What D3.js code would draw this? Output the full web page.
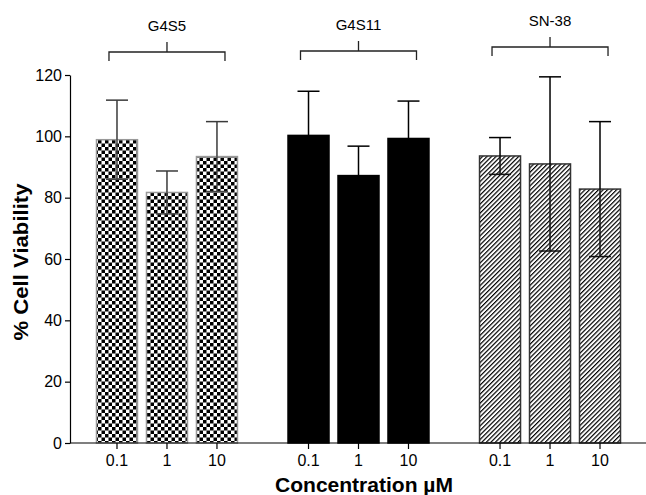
<!DOCTYPE html>
<html lang="en">
<head>
<meta charset="UTF-8">
<script src="https://d3js.org/d3.v7.min.js"></script>
<style>
    body { margin: 0; background: #fff; }
    text { font-family: "Liberation Sans", Arial, Helvetica, sans-serif; fill: #000; }
</style>
</head>
<body>
<script>
// data
var groups = ["G4S5", "G4S11", "SN-38"];
var concentrations = ["0.1", "1", "10"];
var g4s5Mean  = [98.9, 81.7, 93.4];
var g4s5Sd    = [12.9, 7.0, 11.4];
var g4s11Mean = [100.3, 87.2, 99.3];
var g4s11Sd   = [14.4, 9.6, 12.2];
var sn38Mean  = [93.6, 91.0, 82.8];
var sn38Sd    = [6.0, 28.4, 22.0];
var yTicks = [0, 20, 40, 60, 80, 100, 120];

var means = [g4s5Mean, g4s11Mean, sn38Mean];
var sds = [g4s5Sd, g4s11Sd, sn38Sd];
var rows = [];
groups.forEach(function (g, gi) {
    concentrations.forEach(function (c, ci) {
        rows.push({ group: g, gi: gi, conc: c, mean: means[gi][ci], sd: sds[gi][ci] });
    });
});

var width = 646, height = 495;
var svg = d3.select("body").append("svg")
    .attr("width", width)
    .attr("height", height);

// patterns
var defs = svg.append("defs");
var checker = defs.append("pattern")
    .attr("id", "checker")
    .attr("patternUnits", "userSpaceOnUse")
    .attr("width", 7).attr("height", 7);
checker.append("rect").attr("width", 7).attr("height", 7).attr("fill", "#fff");
checker.append("rect").attr("width", 3.5).attr("height", 3.5).attr("fill", "#000");
checker.append("rect").attr("x", 3.5).attr("y", 3.5).attr("width", 3.5).attr("height", 3.5).attr("fill", "#000");

var hatch = defs.append("pattern")
    .attr("id", "hatch")
    .attr("patternUnits", "userSpaceOnUse")
    .attr("width", 3.2).attr("height", 3.2)
    .attr("patternTransform", "rotate(45)");
hatch.append("rect").attr("width", 3.2).attr("height", 3.2).attr("fill", "#fff");
hatch.append("line").attr("x1", 0.6).attr("y1", 0).attr("x2", 0.6).attr("y2", 3.2)
    .attr("stroke", "#000").attr("stroke-width", 1.2);

var fills = ["url(#checker)", "#000", "url(#hatch)"];
var outlines = ["#999", "#000", "#333"];
var errColor = ["#3a3a3a", "#000", "#000"];
var lowColor = ["#444", "#000", "#111"];
var bracketY = [52, 51, 47];

// scales
var y = d3.scaleLinear().domain([0, 120]).range([443, 75]);
var xGroup = d3.scaleBand().domain(groups).range([92, 625]).paddingInner(0.217).paddingOuter(0);
var xConc = d3.scaleBand().domain(concentrations).range([0, xGroup.bandwidth()])
    .paddingInner(0.18).paddingOuter(0.09);

function cx(d) { return xGroup(d.group) + xConc(d.conc) + xConc.bandwidth() / 2; }

// bars
svg.append("g").selectAll("rect")
    .data(rows)
    .enter().append("rect")
    .attr("x", function (d) { return xGroup(d.group) + xConc(d.conc); })
    .attr("y", function (d) { return y(d.mean); })
    .attr("width", xConc.bandwidth())
    .attr("height", function (d) { return y(0) - y(d.mean); })
    .attr("fill", function (d) { return fills[d.gi]; })
    .attr("stroke", function (d) { return outlines[d.gi]; })
    .attr("stroke-width", 1.5);

// error bars
var capW = 11;
var err = svg.append("g").selectAll("g")
    .data(rows)
    .enter().append("g")
    .attr("stroke-width", 1.5);
err.append("line")
    .attr("x1", cx).attr("x2", cx)
    .attr("y1", function (d) { return y(d.mean); })
    .attr("y2", function (d) { return y(d.mean - d.sd); })
    .attr("stroke", function (d) { return lowColor[d.gi]; });
err.append("line")
    .attr("x1", function (d) { return cx(d) - capW; })
    .attr("x2", function (d) { return cx(d) + capW; })
    .attr("y1", function (d) { return y(d.mean - d.sd); })
    .attr("y2", function (d) { return y(d.mean - d.sd); })
    .attr("stroke", function (d) { return lowColor[d.gi]; });
err.append("line")
    .attr("x1", cx).attr("x2", cx)
    .attr("y1", function (d) { return y(d.mean + d.sd); })
    .attr("y2", function (d) { return y(d.mean); })
    .attr("stroke", function (d) { return errColor[d.gi]; });
err.append("line")
    .attr("x1", function (d) { return cx(d) - capW; })
    .attr("x2", function (d) { return cx(d) + capW; })
    .attr("y1", function (d) { return y(d.mean + d.sd); })
    .attr("y2", function (d) { return y(d.mean + d.sd); })
    .attr("stroke", function (d) { return errColor[d.gi]; });

// y axis
var yAxis = svg.append("g")
    .attr("transform", "translate(70,0)")
    .call(d3.axisLeft(y).tickValues(yTicks).tickSize(5).tickSizeOuter(0).tickPadding(3));
yAxis.selectAll("text").style("font-size", "16px").attr("fill", "#000");
yAxis.selectAll("line, path").attr("stroke", "#000").attr("stroke-width", 1.2);

// x axis
var xAxis = svg.append("g");
xAxis.append("line")
    .attr("x1", 70).attr("x2", width)
    .attr("y1", y(0)).attr("y2", y(0))
    .attr("stroke", "#000").attr("stroke-width", 1.2);
var xt = xAxis.selectAll("g.tick")
    .data(rows)
    .enter().append("g")
    .attr("transform", function (d) { return "translate(" + cx(d) + "," + y(0) + ")"; });
xt.append("line").attr("y2", 6).attr("stroke", "#000").attr("stroke-width", 1.2);
xt.append("text")
    .attr("y", 23)
    .attr("text-anchor", "middle")
    .style("font-size", "16px")
    .text(function (d) { return d.conc; });

// group brackets
var br = svg.append("g").selectAll("g")
    .data(groups)
    .enter().append("g")
    .attr("transform", function (g, i) {
        return "translate(" + (xGroup(g) + xGroup.bandwidth() / 2) + "," + bracketY[i] + ")";
    })
    .attr("stroke", "#222").attr("stroke-width", 1.3).attr("fill", "none");
br.append("path").attr("d", "M-58,9V0H58V9M0,0V-10");
br.append("text")
    .attr("y", -21)
    .attr("text-anchor", "middle")
    .attr("stroke", "none")
    .attr("fill", "#000")
    .style("font-size", "15px")
    .text(function (g) { return g; });

// axis titles
svg.append("text")
    .attr("transform", "translate(28,262) rotate(-90)")
    .attr("text-anchor", "middle")
    .attr("textLength", 157)
    .attr("lengthAdjust", "spacingAndGlyphs")
    .style("font-size", "21px").style("font-weight", "bold")
    .text("% Cell Viability");
svg.append("text")
    .attr("x", 364).attr("y", 492)
    .attr("text-anchor", "middle")
    .attr("textLength", 178)
    .attr("lengthAdjust", "spacingAndGlyphs")
    .style("font-size", "20px").style("font-weight", "bold")
    .text("Concentration \u00b5M");
</script>
</body>
</html>
